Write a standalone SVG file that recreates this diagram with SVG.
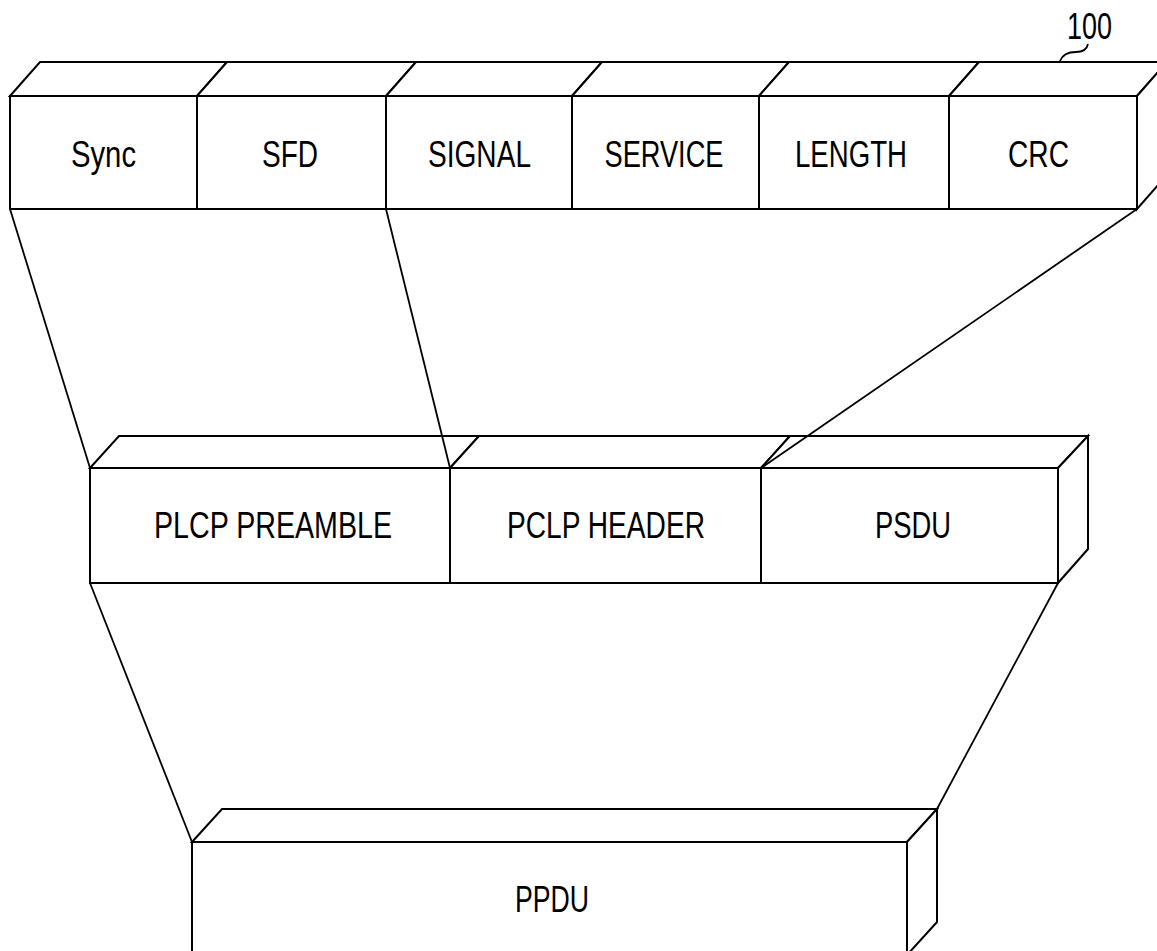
<svg xmlns="http://www.w3.org/2000/svg" width="1157" height="951" viewBox="0 0 1157 951">
<style>
.f{fill:#fff;stroke:#000;stroke-width:2;stroke-linejoin:miter}
.c{fill:none;stroke:#000;stroke-width:1.8}
.t{font-family:"Liberation Sans",Arial,sans-serif;font-size:37px;fill:#000;text-anchor:middle}
.m{font-size:36px}
</style>
<rect width="1157" height="951" fill="#fff"/>
<g id="sync">
<polygon class="f" points="10,96 40,62 227,62 197,96"/>
<rect class="f" x="10" y="96" width="187" height="113"/>
<text class="t" x="103.5" y="167" textLength="65" lengthAdjust="spacingAndGlyphs">Sync</text>
</g>
<g id="sfd">
<polygon class="f" points="197,96 227,62 416,62 386,96"/>
<rect class="f" x="197" y="96" width="189" height="113"/>
<text class="t" x="290" y="167" textLength="56" lengthAdjust="spacingAndGlyphs">SFD</text>
</g>
<g id="signal">
<polygon class="f" points="386,96 416,62 602,62 572,96"/>
<rect class="f" x="386" y="96" width="186" height="113"/>
<text class="t" x="479.5" y="167" textLength="103" lengthAdjust="spacingAndGlyphs">SIGNAL</text>
</g>
<g id="service">
<polygon class="f" points="572,96 602,62 789,62 759,96"/>
<rect class="f" x="572" y="96" width="187" height="113"/>
<text class="t" x="664" y="167" textLength="119" lengthAdjust="spacingAndGlyphs">SERVICE</text>
</g>
<g id="length">
<polygon class="f" points="759,96 789,62 979,62 949,96"/>
<rect class="f" x="759" y="96" width="190" height="113"/>
<text class="t" x="851" y="167" textLength="112" lengthAdjust="spacingAndGlyphs">LENGTH</text>
</g>
<g id="crc">
<polygon class="f" points="949,96 979,62 1167,62 1137,96"/>
<polygon class="f" points="1137,96 1167,62 1167,175 1137,209"/>
<rect class="f" x="949" y="96" width="188" height="113"/>
<text class="t" x="1038.5" y="167" textLength="61" lengthAdjust="spacingAndGlyphs">CRC</text>
</g>
<g id="label-100">
<path class="c" d="M1060,61 C1063,53 1070,52 1076,52 C1083,52 1087,49 1088,44"/>
<text class="t m" x="1089.5" y="39" textLength="45" lengthAdjust="spacingAndGlyphs">100</text>
</g>
<g id="plcp-preamble">
<polygon class="f" points="90,468 119,436 479,436 450,468"/>
<rect class="f" x="90" y="468" width="360" height="115"/>
<text class="t m" x="273" y="538" textLength="238" lengthAdjust="spacingAndGlyphs">PLCP PREAMBLE</text>
</g>
<g id="pclp-header">
<polygon class="f" points="450,468 479,436 790,436 761,468"/>
<rect class="f" x="450" y="468" width="311" height="115"/>
<text class="t m" x="606" y="538" textLength="198" lengthAdjust="spacingAndGlyphs">PCLP HEADER</text>
</g>
<g id="psdu">
<polygon class="f" points="761,468 790,436 1088,436 1058,468"/>
<polygon class="f" points="1058,468 1088,436 1088,549 1058,583"/>
<rect class="f" x="761" y="468" width="297" height="115"/>
<text class="t m" x="913" y="538" textLength="76" lengthAdjust="spacingAndGlyphs">PSDU</text>
</g>
<g id="ppdu">
<polygon class="f" points="192,842 222,809 937,809 907,842"/>
<polygon class="f" points="907,842 937,809 937,922 907,955"/>
<rect class="f" x="192" y="842" width="715" height="120"/>
<text class="t m" x="552" y="912" textLength="74" lengthAdjust="spacingAndGlyphs">PPDU</text>
</g>
<g id="connectors">
<line class="c" x1="10" y1="209" x2="90" y2="468"/>
<line class="c" x1="386" y1="209" x2="450" y2="468"/>
<line class="c" x1="1137" y1="209" x2="761" y2="468"/>
<line class="c" x1="90" y1="583" x2="192" y2="842"/>
<line class="c" x1="1058" y1="583" x2="937" y2="809"/>
</g>
</svg>
